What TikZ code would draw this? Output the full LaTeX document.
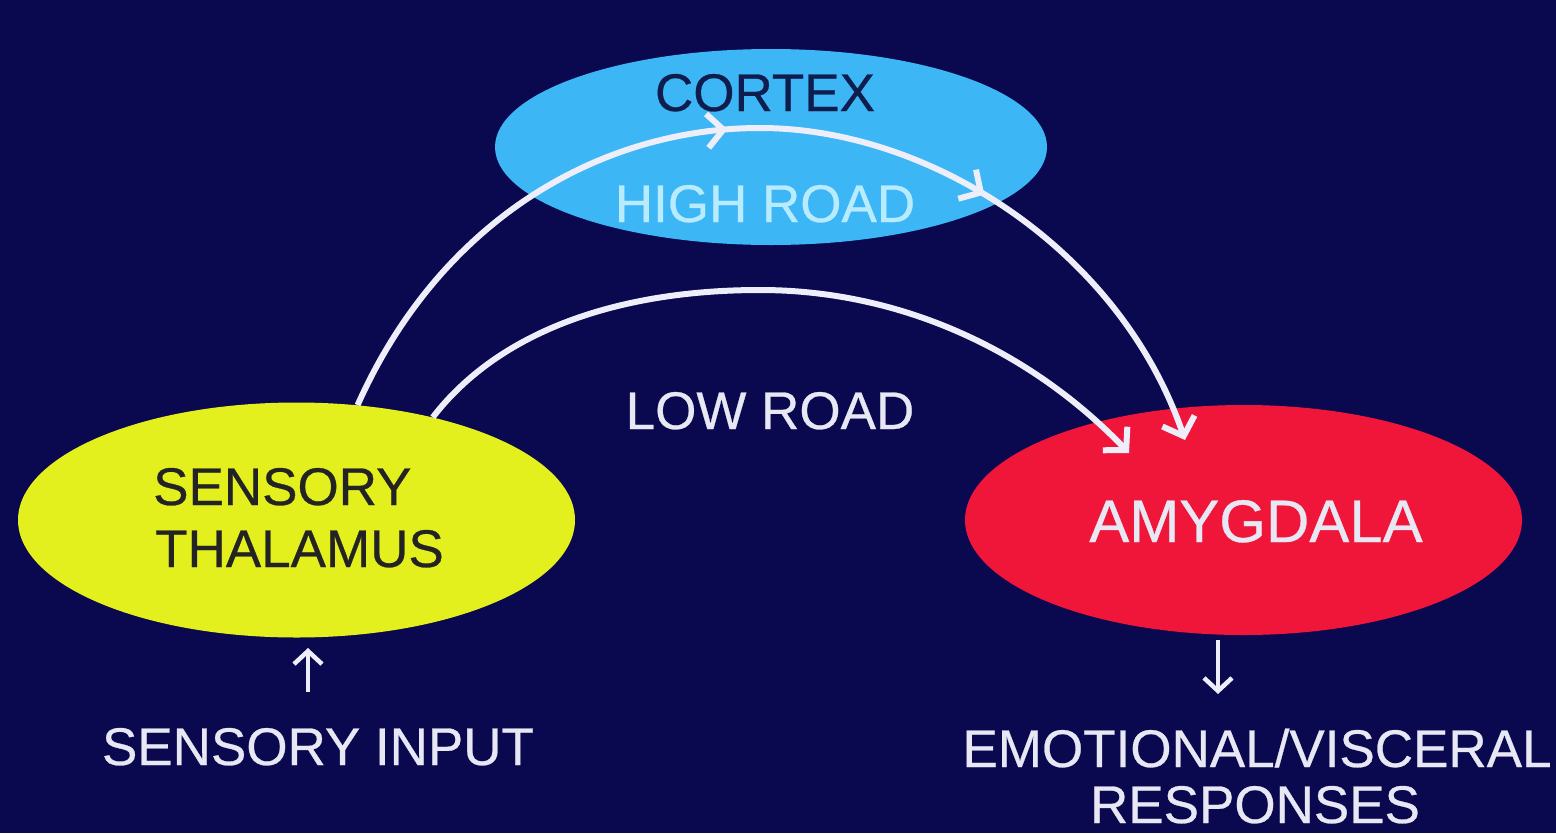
\documentclass[tikz,border=0pt]{standalone}
\usepackage{fontspec}
\setmainfont[FakeBold=0.5]{Liberation Sans}
\usetikzlibrary{arrows.meta,decorations.markings,shapes.geometric}
\definecolor{bg}{RGB}{10,8,78}
\definecolor{cortexblue}{RGB}{60,182,245}
\definecolor{thalyellow}{RGB}{228,240,30}
\definecolor{amyred}{RGB}{240,22,58}
\definecolor{darktext}{RGB}{15,28,78}
\definecolor{thaltext}{RGB}{35,35,35}
\definecolor{hightext}{RGB}{185,235,255}
\definecolor{wtext}{RGB}{232,232,245}
\definecolor{arrowcol}{RGB}{238,238,250}
\begin{document}
\begin{tikzpicture}[x=1pt,y=-1pt,
  region/.style={ellipse, inner sep=0pt},
  lbl/.style={anchor=base, inner sep=0pt, font=\fontsize{53}{62}\selectfont},
  roadtip/.style={-{Straight Barb[length=16pt,width=34pt,line width=6pt]}},
  road/.style={draw=arrowcol, line width=6pt, roadtip},
  small/.style={draw=arrowcol, line width=4.5pt, -{Straight Barb[length=13pt,width=28pt,line width=4.5pt]}}
]
\useasboundingbox (0,0) rectangle (1556,833);
\fill[bg] (0,0) rectangle (1556,833);

% regions
\node[region, fill=cortexblue, minimum width=552pt, minimum height=196pt] (cortex) at (771,147) {};
\node[region, fill=thalyellow, minimum width=557pt, minimum height=235pt] (thal) at (296.5,520) {};
\node[region, fill=amyred, minimum width=557pt, minimum height=230pt] (amyg) at (1243.5,520) {};

% texts
\node[lbl, text=darktext] (cortexlbl) at (765,111) {CORTEX};
\node[lbl, text=hightext] (highlbl) at (765,222) {HIGH ROAD};
\node[lbl, text=wtext] (lowlbl) at (770,429) {LOW ROAD};
\node[lbl, anchor=base west, text=thaltext] (thal1) at (153,505) {SENSORY};
\node[lbl, anchor=base west, text=thaltext] (thal2) at (155,567) {THALAMUS};
\node[lbl, text=wtext, font=\fontsize{60}{70}\selectfont] (amyglbl) at (1256,542) {AMYGDALA};
\node[lbl, text=wtext] (input) at (318,765) {SENSORY INPUT};
\node[lbl, text=wtext] (resp1) at (1257,767) {EMOTIONAL/VISCERAL};
\node[lbl, text=wtext] (resp2) at (1255,823) {RESPONSES};

% connector end points
\coordinate (hiEnd) at (1185,440);
\coordinate (loEnd) at (1129,453);
\coordinate (hiTop) at (760,128);
\coordinate (loTop) at (760,290);

% high road
\draw[road, postaction={decorate}, decoration={markings,
    mark=at position 0.45 with {\arrow{Straight Barb[length=16pt,width=34pt,line width=6pt]}},
    mark=at position 0.70 with {\arrow{Straight Barb[length=16pt,width=34pt,line width=6pt]}}}]
  (thal.62.5) .. controls (440,220) and (600,128) .. (hiTop)
  .. controls (930,128) and (1120,250) .. (hiEnd);

% low road
\draw[road] (thal.37) .. controls (500,330) and (620,290) .. (loTop)
  .. controls (900,290) and (1030,350) .. (loEnd);

% small arrows
\coordinate (inA) at (308,692);
\coordinate (inB) at (308,648);
\draw[small] (inA) -- (inB);
\coordinate (outA) at (1218,640);
\coordinate (outB) at (1218,694);
\draw[small] (outA) -- (outB);
\end{tikzpicture}
\end{document}
